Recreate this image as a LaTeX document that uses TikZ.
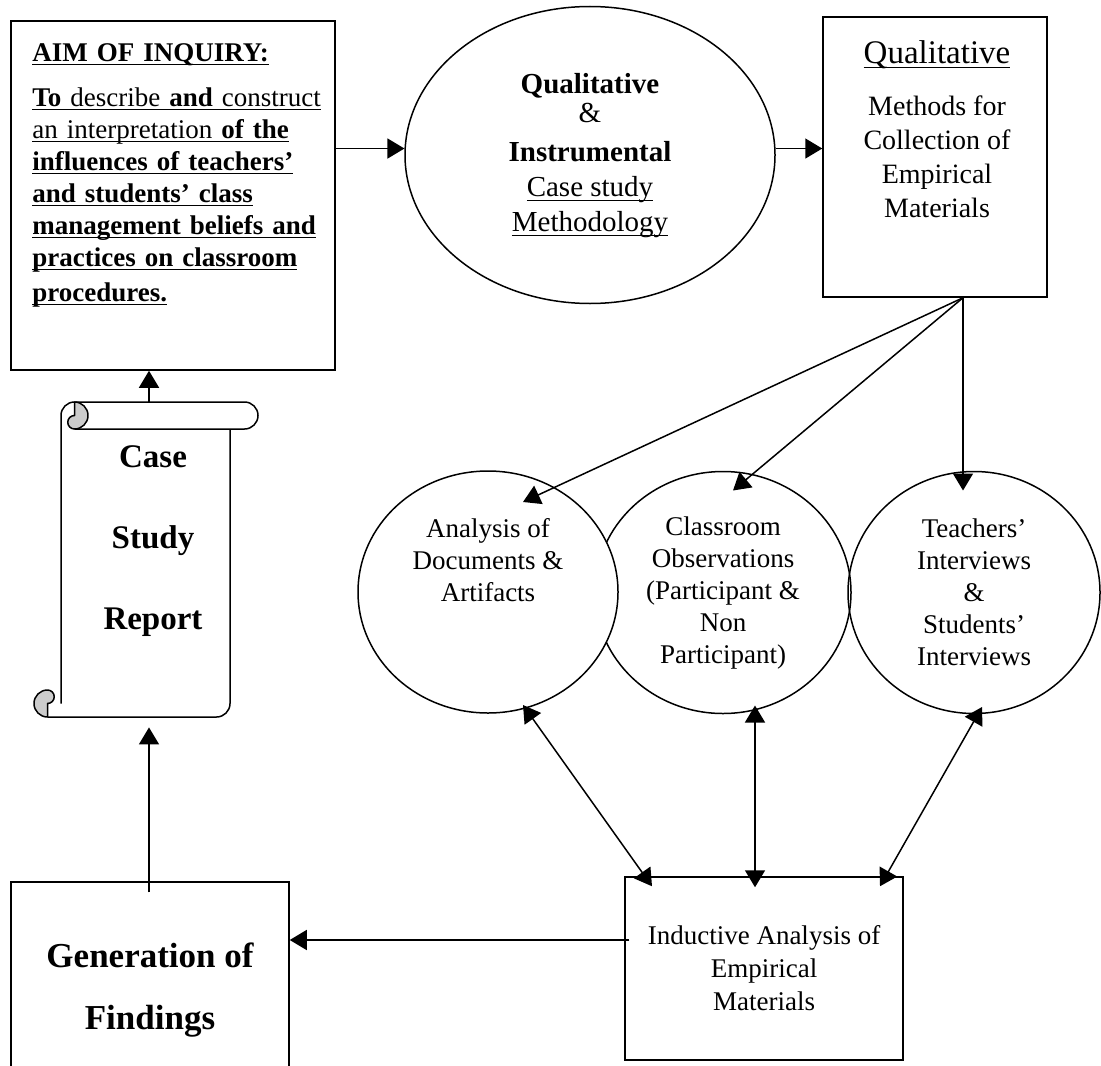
\documentclass[tikz,border=0pt]{standalone}
\usepackage{fontspec}
\setmainfont{Liberation Serif}
\usepackage{tikz}
\usetikzlibrary{shapes.geometric, arrows.meta, positioning, calc}
\definecolor{curlgrey}{gray}{0.8}
\newcommand{\undl}[1]{\underline{\smash{#1}\vphantom{a}}}
\tikzset{
    box_plain/.style={rectangle, draw, line width=0.75pt, inner sep=0pt},
    circ_plain/.style={ellipse, draw, line width=0.75pt, inner sep=0pt, align=center, font=\fontsize{13.5}{16}\selectfont},
    scroll_line/.style={line width=0.75pt, line join=round},
    arrow/.style={-{Triangle[length=8.5pt,width=10pt]}, line width=0.75pt},
    both_ways/.style={{Triangle[length=8.5pt,width=10pt]}-{Triangle[length=8.5pt,width=10pt]}, line width=0.75pt}
}

\begin{document}
\begin{tikzpicture}[x=0.5pt, y=0.5pt]
\useasboundingbox (0,0) rectangle (1101,-1065);
\clip (0,0) rectangle (1101,-1065);

% top row
\node (aim) [box_plain, minimum width=162pt, minimum height=174.5pt] at (173,-195.5) {};
\node (aimtxt) [anchor=north west, inner sep=0pt, text width=156pt, align=left, font=\fontsize{13.5}{16}\selectfont] at (32,-48)
    {\undl{\textbf{AIM OF INQUIRY:}}\\[6.5pt]
     \undl{\textbf{To} describe \textbf{and} construct}\\
     \undl{an interpretation \textbf{of the}}\\
     \undl{\textbf{influences of teachers'}}\\
     \undl{\textbf{and students' class}}\\
     \undl{\textbf{management beliefs and}}\\
     \undl{\textbf{practices on classroom}}\\[1.5pt]
     \undl{\textbf{procedures.}}};
\node (method) [circ_plain, minimum width=185pt, minimum height=148.5pt, font=\fontsize{14.5}{17.5}\selectfont] at (590,-155)
    {\textbf{Qualitative}\\[-3pt]\&\\[2pt]\textbf{Instrumental}\\\undl{Case study}\\\undl{Methodology}};
\node (quali) [box_plain, minimum width=112pt, minimum height=140pt] at (935,-157) {};
\node (qualtxt) [anchor=north, inner sep=0pt, align=center, font=\fontsize{14}{17}\selectfont] at (937,-48)
    {{\fontsize{16.5}{19}\selectfont\undl{Qualitative}}\\[9pt]Methods for\\Collection of\\Empirical\\Materials};

% scroll
\node (report) [minimum width=109pt, minimum height=157.5pt, inner sep=0pt] at (149,-559.5) {};
\draw[scroll_line, fill=white] (61,-703.5) -- (61,-415.5) arc[start angle=180, end angle=90, radius=13.5]
    -- (244.5,-402) arc[start angle=90, end angle=-90, radius=13.5] -- (74.5,-429);
\draw[scroll_line] (230,-429) -- (230,-703.5) arc[start angle=0, end angle=-90, radius=13.5] -- (47.5,-717);
\draw[scroll_line, fill=curlgrey] (74.5,-402) arc[start angle=90, end angle=-90, radius=13.5]
    arc[start angle=270, end angle=90, radius=6.75] -- cycle;
\draw[scroll_line, fill=curlgrey] (47.5,-717) arc[start angle=-90, end angle=-270, radius=13.5]
    arc[start angle=90, end angle=-90, radius=6.75] -- cycle;
\node (reptxt) [align=center, font=\bfseries\fontsize{16.5}{40.5}\selectfont] at (153,-541) {Case\\Study\\Report};

% middle row
\node (obs) [circ_plain, minimum width=128pt, minimum height=121pt] at (723,-592.5)
    {Classroom\\Observations\\(Participant \&\\Non\\Participant)};
\node (intv) [circ_plain, minimum width=126pt, minimum height=121pt] at (974,-592.5)
    {Teachers'\\Interviews\\\&\\Students'\\Interviews};
\node (ana) [circ_plain, fill=white, minimum width=130pt, minimum height=121pt] at (488,-592)
    {Analysis of\\Documents \&\\Artifacts\\~\\~};

% bottom row
\node (gen) [box_plain, minimum width=139pt, minimum height=108pt, align=center, font=\bfseries\fontsize{17.5}{31}\selectfont] at (150,-990)
    {Generation of\\Findings};
\node (ind) [box_plain, minimum width=139pt, minimum height=91.5pt, align=center, font=\fontsize{13.5}{16.5}\selectfont] at (764,-968.5)
    {Inductive Analysis of\\Empirical\\Materials};

% connectors
\coordinate (fan) at ($(quali.south)+(28,0)$);
\coordinate (indout) at ($(ind.west)+(5,28.5)$);
\draw [arrow] (aim.east |- method.178) -- (method.178);
\draw [arrow] (method.2) -- (quali.west |- method.2);
\draw [arrow] (fan) -- ($(ana.center)+(35,90)$);
\draw [arrow] (fan) -- ($(obs.center)+(10,102)$);
\draw [arrow] (fan) -- ($(intv.center)+(-11,102)$);
\draw [both_ways] ($(ana.center)+(35,-113)$) -- ($(ind.north)+(-112,-10)$);
\draw [both_ways] ($(obs.center)+(32,-113)$) -- ($(ind.north)+(-9,-11)$);
\draw [both_ways] ($(intv.center)+(8,-114.5)$) -- ($(ind.north)+(116,-10)$);
\draw [arrow] (indout) -- (indout -| gen.east);
\draw [arrow] ([yshift=-5.5pt]report.south |- gen.north) -- ([yshift=-5pt]report.south);
\draw [arrow] (report.north) -- (report.north |- aim.south);
\end{tikzpicture}
\end{document}
